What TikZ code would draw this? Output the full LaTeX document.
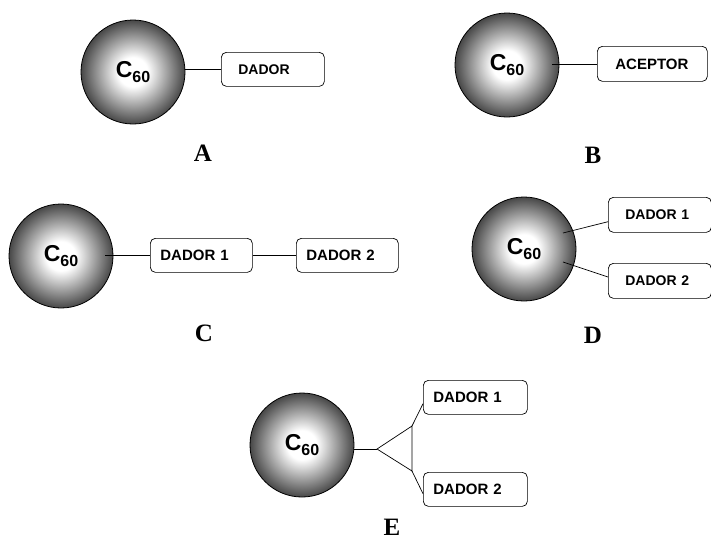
\documentclass[tikz,border=0pt]{standalone}
\usepackage{fontspec}
\setmainfont{Liberation Serif}
\newfontfamily\arialfont{Liberation Sans Bold}
\usetikzlibrary{calc}
\pgfdeclareradialshading{ballshade}{\pgfpoint{0bp}{0bp}}{color(0bp)=(white); color(7bp)=(white); color(25bp)=(black!72); color(50bp)=(black!72)}
\newcommand{\cs}{C\raisebox{-5pt}{\fontsize{16}{16}\selectfont 60}}
\tikzset{
  ball/.style={circle, draw, line width=0.8pt, minimum size=104pt, inner sep=0pt,
    shading=ballshade, font=\arialfont\fontsize{23}{23}\selectfont},
  box/.style={draw, rounded corners=5pt, line width=0.7pt, anchor=north west,
    align=left, inner ysep=0pt, font=\arialfont\fontsize{15}{15}\selectfont},
  lab/.style={font=\bfseries\fontsize{25}{25}\selectfont, inner sep=0pt},
  link/.style={line width=0.7pt}
}
\begin{document}
\begin{tikzpicture}[x=1pt,y=-1pt]
\useasboundingbox (0,0) rectangle (711,542);
% A
\node[ball] (ballA) at (133,72) {\cs};
\node[box, font=\arialfont\fontsize{14}{14}\selectfont, minimum height=34pt, inner xsep=17pt, text width=69pt] (boxA) at (221,52) {DADOR};
\draw[link] (boxA.west) -- (boxA.west -| ballA.east);
\node[lab] (labA) at (203,153) {A};
% B
\node[ball] (ballB) at (507,65) {\cs};
\node[box, minimum height=35pt, inner xsep=18pt, text width=74pt] (boxB) at (597,46) {ACEPTOR};
\draw[link] (boxB.west) -- ++(-45,0);
\node[lab] (labB) at (593,155) {B};
% C
\node[ball] (ballC) at (61,256) {\cs};
\node[box, minimum height=34pt, inner xsep=10pt, text width=82pt] (boxC1) at (150,238) {DADOR 1};
\node[box, minimum height=34pt, inner xsep=10pt, text width=82pt] (boxC2) at (296,238) {DADOR 2};
\draw[link] (boxC1.west) -- ++(-45,0);
\draw[link] (boxC1.east) -- (boxC2.west);
\node[lab] (labC) at (204,333) {C};
% D
\node[ball] (ballD) at (524,249) {\cs};
\node[box, font=\arialfont\fontsize{14}{14}\selectfont, minimum height=35pt, inner xsep=17pt, text width=69pt] (boxD1) at (608,197) {DADOR 1};
\node[box, font=\arialfont\fontsize{14}{14}\selectfont, minimum height=35pt, inner xsep=17pt, text width=69pt] (boxD2) at (608,263) {DADOR 2};
\coordinate (d1) at (563,233);
\coordinate (d2) at (563,262);
\draw[link] (d1) -- ($(boxD1.south west)+(0,-11)$);
\draw[link] (d2) -- ($(boxD2.north west)+(0,14)$);
\node[lab] (labD) at (593,335) {D};
% E
\node[ball] (ballE) at (302,445) {\cs};
\node[box, minimum height=34pt, inner xsep=10pt, text width=84pt] (boxE1) at (423,380) {DADOR 1};
\node[box, minimum height=34pt, inner xsep=10pt, text width=84pt] (boxE2) at (423,472) {DADOR 2};
\coordinate (apex) at (377,449);
\coordinate (t1) at (412,426);
\coordinate (t2) at (412,471);
\draw[link] (apex -| ballE.east) -- (apex);
\draw[link] (apex) -- (t1) -- (t2) -- cycle;
\draw[link] (t1) -- ($(boxE1.south west)+(0,-11)$);
\draw[link] (t2) -- ($(boxE2.south west)+(0,-13)$);
\node[lab] (labE) at (392,527) {E};
\end{tikzpicture}
\end{document}
